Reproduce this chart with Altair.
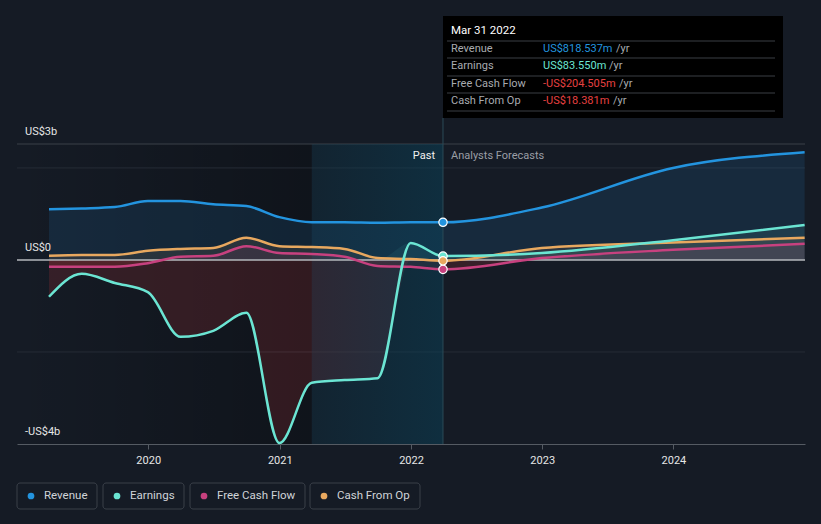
import altair as alt
import pandas as pd

FONT = "Roboto"
BG = "#151b25"

# ---------------- data (US$ billions) ----------------
dates = ["2019-03-31", "2019-06-30", "2019-09-30", "2019-12-31", "2020-03-31",
         "2020-06-30", "2020-09-30", "2020-12-31", "2021-03-31", "2021-06-30",
         "2021-09-30", "2021-12-31", "2022-03-31", "2022-12-31", "2023-12-31",
         "2024-12-31"]
revenue = [1.10, 1.12, 1.15, 1.28, 1.28, 1.21, 1.17, 0.93, 0.82, 0.82, 0.81, 0.82,
           0.8185, 1.14, 2.00, 2.34]
earnings = [-0.80, -0.30, -0.50, -0.70, -1.67, -1.54, -1.15, -3.98, -2.67, -2.61,
            -2.57, 0.37, 0.0836, 0.15, 0.43, 0.76]
free_cash_flow = [-0.15, -0.15, -0.15, -0.07, 0.07, 0.09, 0.30, 0.15, 0.13, 0.07,
                  -0.13, -0.15, -0.2045, 0.04, 0.22, 0.35]
cash_from_op = [0.09, 0.11, 0.11, 0.20, 0.24, 0.26, 0.48, 0.30, 0.28, 0.24, 0.04,
                0.02, -0.0184, 0.26, 0.38, 0.48]

series_names = ["Revenue", "Earnings", "Free Cash Flow", "Cash From Op"]
series_colors = ["#2394df", "#6be5d3", "#c7417f", "#e8a85f"]
present_date = "2022-03-31"
highlight_start = "2021-03-31"
tooltip_title = "Mar 31 2022"
tooltip_values = ["US$818.537m", "US$83.550m", "-US$204.505m", "-US$18.381m"]
tooltip_value_colors = ["#2394df", "#6be5d3", "#e64141", "#e64141"]
y_label_values = [2.52, 0.0, -4.0]
y_label_texts = ["US$3b", "US$0", "-US$4b"]
grid_values = [2.0, -2.0]
year_ticks = [2020, 2021, 2022, 2023, 2024]

# ---------------- tables ----------------
vals = [revenue, earnings, free_cash_flow, cash_from_op]
rows = []
for name, v in zip(series_names, vals):
    for d, x in zip(dates, v):
        rows.append({"date": d, "series": name, "value": x,
                     "pos": max(x, 0.0), "neg": min(x, 0.0)})
df = pd.DataFrame(rows)
present_df = df[df["date"] == present_date]

W, H = 788, 300
yscale = alt.Scale(domain=[-4.0, 2.52], nice=False)
xscale = alt.Scale(domain=[alt.DateTime(year=2019, month=1, date=1, utc=True),
                           alt.DateTime(year=2025, month=1, date=1, utc=True)])
cscale = alt.Scale(domain=series_names, range=series_colors)

X = alt.X("date:T", scale=xscale,
          axis=alt.Axis(values=[alt.DateTime(year=y, month=1, date=1, utc=True) for y in year_ticks],
                        format="%Y", formatType="utc", labelColor="#e6e6e6",
                        labelFont=FONT, labelFontSize=11, tickColor="#555b63",
                        domainColor="#555b63", tickSize=5, grid=False, title=None,
                        labelPadding=5))

def txt(s, x, y, color, size=11, align="left", weight="normal"):
    return alt.Chart(pd.DataFrame({"t": [s]})).mark_text(
        align=align, baseline="middle", color=color, fontSize=size, font=FONT,
        fontWeight=weight).encode(x=alt.value(x), y=alt.value(y), text="t:N")

def hrule(x1, x2, y, color, width=1):
    return alt.Chart(pd.DataFrame({"a": [0]})).mark_rule(color=color, strokeWidth=width).encode(
        x=alt.value(x1), x2=alt.value(x2), y=alt.value(y))

# ---------------- background shading ----------------
past_dark = alt.Chart(pd.DataFrame({"s": ["2019-01-01"], "e": [highlight_start]})).mark_rect(
    color=alt.LinearGradient(gradient="linear", x1=0, x2=1, y1=0, y2=0,
                             stops=[alt.GradientStop(offset=0, color="rgba(0,0,0,0)"),
                                    alt.GradientStop(offset=1, color="rgba(0,0,0,0.28)")])
).encode(x=alt.X("s:T", scale=xscale), x2="e:T", y=alt.value(0), y2=alt.value(H))

highlight = alt.Chart(pd.DataFrame({"s": [highlight_start], "e": [present_date]})).mark_rect(
    color=alt.LinearGradient(gradient="linear", x1=0, x2=1, y1=0, y2=0,
                             stops=[alt.GradientStop(offset=0, color="rgba(8,70,95,0.2)"),
                                    alt.GradientStop(offset=1, color="rgba(8,70,95,0.45)")])
).encode(x=alt.X("s:T", scale=xscale), x2="e:T", y=alt.value(0), y2=alt.value(H))

# grid lines
grid = alt.Chart(pd.DataFrame({"v": grid_values})).mark_rule(color="#262c36", strokeWidth=1).encode(
    y=alt.Y("v:Q", scale=yscale, axis=None), x=alt.value(0), x2=alt.value(W))
top_line = hrule(0, W, 0, "#3a4049")

# ---------------- areas ----------------
area_order = ["Revenue", "Earnings", "Cash From Op", "Free Cash Flow"]
areas = []
for name in area_order:
    col = series_colors[series_names.index(name)]
    op = 0.13 if name == "Revenue" else 0.10
    areas.append(alt.Chart(df[df["series"] == name]).mark_area(
        interpolate="monotone", color=col, opacity=op).encode(
        x=X, y=alt.Y("pos:Q", scale=yscale, stack=None, axis=None), y2=alt.datum(0)))
    areas.append(alt.Chart(df[df["series"] == name]).mark_area(
        interpolate="monotone", color="#e64141", opacity=0.16).encode(
        x=X, y=alt.Y("neg:Q", scale=yscale, stack=None, axis=None), y2=alt.datum(0)))

zero_line = alt.Chart(pd.DataFrame({"v": [0.0]})).mark_rule(color="#b4b8bd", strokeWidth=1.5).encode(
    y=alt.Y("v:Q", scale=yscale, axis=None), x=alt.value(0), x2=alt.value(W))

# ---------------- lines ----------------
lines = []
for name in ["Cash From Op", "Free Cash Flow", "Earnings", "Revenue"]:
    col = series_colors[series_names.index(name)]
    lines.append(alt.Chart(df[df["series"] == name]).mark_line(
        interpolate="monotone", color=col, strokeWidth=2.5).encode(
        x=X, y=alt.Y("value:Q", scale=yscale, axis=None)))

present_rule = alt.Chart(pd.DataFrame({"d": [present_date]})).mark_rule(
    color="#2b4a57", strokeWidth=1).encode(x=alt.X("d:T", scale=xscale), y=alt.value(-26), y2=alt.value(H))

points = alt.Chart(present_df).mark_point(filled=True, size=70, stroke="white",
                                          strokeWidth=1.2, opacity=1).encode(
    x=X, y=alt.Y("value:Q", scale=yscale, axis=None),
    fill=alt.Color("series:N", scale=cscale, legend=None))

# y labels
ylabels = alt.Chart(pd.DataFrame({"v": y_label_values, "t": y_label_texts})).mark_text(
    align="left", baseline="middle", dy=-12, color="#e6e6e6", fontSize=11, font=FONT).encode(
    x=alt.value(8), y=alt.Y("v:Q", scale=yscale, axis=None), text="t:N")

past_lbl = alt.Chart(pd.DataFrame({"d": [present_date], "t": ["Past"]})).mark_text(
    align="right", baseline="middle", dx=-8, color="#f0f0f0", fontSize=11, font=FONT).encode(
    x=alt.X("d:T", scale=xscale), y=alt.value(12), text="t:N")
fc_lbl = alt.Chart(pd.DataFrame({"d": [present_date], "t": ["Analysts Forecasts"]})).mark_text(
    align="left", baseline="middle", dx=8, color="#9a9ea5", fontSize=11, font=FONT).encode(
    x=alt.X("d:T", scale=xscale), y=alt.value(12), text="t:N")

# ---------------- tooltip box ----------------
tip = [alt.Chart(pd.DataFrame({"a": [0]})).mark_rect(color="#000000").encode(
    x=alt.value(426), x2=alt.value(766), y=alt.value(-128), y2=alt.value(-26))]
tip.append(txt(tooltip_title, 434, -113, "#ffffff", size=11.5))
for yy in [-103, -86, -68, -51, -33]:
    tip.append(hrule(430, 758, yy, "#3b3f45"))
row_y = [-95, -78, -60, -43]
yr_x = [599, 592, 602, 596]
for i, name in enumerate(series_names):
    tip.append(txt(name, 434, row_y[i], "#a8abb0"))
    tip.append(txt(tooltip_values[i], 526, row_y[i], tooltip_value_colors[i]))
    tip.append(txt("/yr", yr_x[i], row_y[i], "#a8abb0"))

# ---------------- legend ----------------
legend = []
boxes = [(0, 80), (86, 167), (173, 288), (293, 403)]
for i, name in enumerate(series_names):
    x1, x2 = boxes[i]
    legend.append(alt.Chart(pd.DataFrame({"a": [0]})).mark_rect(
        fill=BG, stroke="#3a4049", strokeWidth=1, cornerRadius=3).encode(
        x=alt.value(x1), x2=alt.value(x2), y=alt.value(339), y2=alt.value(365)))
    legend.append(alt.Chart(pd.DataFrame({"a": [0]})).mark_point(
        filled=True, size=45, color=series_colors[i], opacity=1).encode(
        x=alt.value(x1 + 14), y=alt.value(352)))
    legend.append(txt(name, x1 + 27, 352, "#d0d3d8", size=11.5))

chart = alt.layer(
    past_dark, grid, top_line, *areas, highlight, zero_line, present_rule, *lines, points,
    ylabels, past_lbl, fc_lbl, *tip, *legend
).properties(
    width=W, height=H,
    padding={"left": 17, "top": 144, "right": 16, "bottom": 80},
    autosize=alt.AutoSizeParams(type="none"),
    background=BG,
).configure_view(stroke=None)

chart.save("out.html", embed_options={"renderer": "svg", "actions": False})
